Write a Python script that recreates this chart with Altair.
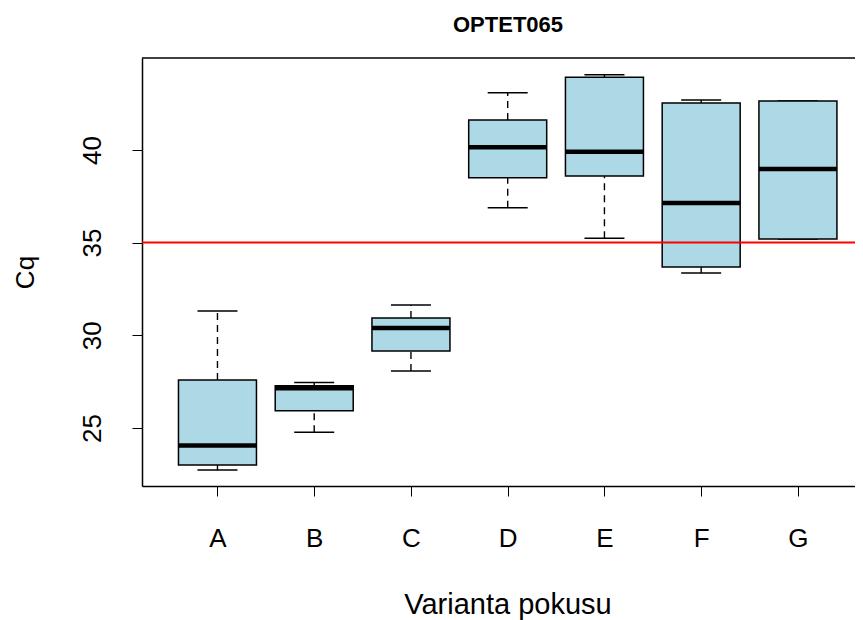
import altair as alt
import pandas as pd

categories = ["A", "B", "C", "D", "E", "F", "G"]
lower = [22.73, 24.77, 28.07, 36.88, 35.23, 33.36, 35.20]
q1 = [23.00, 25.93, 29.15, 38.50, 38.59, 33.69, 35.20]
median = [24.05, 27.14, 30.39, 40.14, 39.90, 37.14, 38.97]
q3 = [27.59, 27.28, 30.93, 41.61, 43.92, 42.53, 42.64]
upper = [31.31, 27.46, 31.63, 43.09, 44.06, 42.69, 42.64]
threshold = [35]
y_ticks = [25, 30, 35, 40]

FONT = "Liberation Sans"
W, H = 713, 428

df = pd.DataFrame({"cat": categories, "lower": lower, "q1": q1,
                   "median": median, "q3": q3, "upper": upper})
thr = pd.DataFrame({"t": threshold})

xs = alt.Scale(type="point", domain=categories, padding=0.685, align=0.5694)
ys = alt.Scale(domain=[21.87, 44.96], nice=False, zero=False)

x_enc = alt.X("cat:N", scale=xs, sort=categories,
              axis=alt.Axis(title="Varianta pokusu", labelAngle=0, labelFontSize=26,
                            labelBaseline="alphabetic", labelPadding=50, tickSize=10,
                            tickWidth=1, tickColor="black",
                            domain=True, domainColor="black", domainWidth=1.5,
                            labelColor="black", labelFont=FONT,
                            titleFont=FONT, titleFontSize=29, titleFontWeight="normal",
                            titleColor="black", titleBaseline="alphabetic",
                            titleAlign="center", titleX=365.5, titleY=127))

y_axis = alt.Axis(title="Cq", values=y_ticks, labelAngle=270, labelAlign="center",
                  labelBaseline="alphabetic", labelPadding=32, labelFontSize=26,
                  labelFont=FONT, labelColor="black", tickSize=10, tickWidth=1,
                  tickColor="black", domain=True, domainColor="black",
                  domainWidth=1.5, grid=False,
                  titleFont=FONT, titleFontSize=26, titleFontWeight="normal",
                  titleColor="black", titleAngle=270, titleBaseline="alphabetic",
                  titleAlign="center", titleX=-109, titleY=214)

base = alt.Chart(df)

whisk_up = base.mark_rule(color="black", strokeWidth=1.4, strokeDash=[7, 5]).encode(
    x=x_enc, y=alt.Y("q3:Q", scale=ys, axis=y_axis), y2="upper:Q")
whisk_lo = base.mark_rule(color="black", strokeWidth=1.4, strokeDash=[7, 5]).encode(
    x=x_enc, y=alt.Y("lower:Q", scale=ys, axis=y_axis), y2="q1:Q")
cap_up = base.mark_tick(color="black", size=40, thickness=1.5, opacity=1).encode(
    x=x_enc, y=alt.Y("upper:Q", scale=ys, axis=y_axis))
cap_lo = base.mark_tick(color="black", size=40, thickness=1.5, opacity=1).encode(
    x=x_enc, y=alt.Y("lower:Q", scale=ys, axis=y_axis))
box = base.mark_bar(size=78, fill="#ADD8E6", stroke="black", strokeWidth=1.5,
                    opacity=1).encode(
    x=x_enc, y=alt.Y("q1:Q", scale=ys, axis=y_axis), y2="q3:Q")
med = base.mark_tick(color="black", size=78, thickness=4.5, opacity=1).encode(
    x=x_enc, y=alt.Y("median:Q", scale=ys, axis=y_axis))
red = alt.Chart(thr).mark_rule(color="#FF0000", strokeWidth=2).encode(
    y=alt.Y("t:Q", scale=ys, axis=y_axis))
top_frame = alt.Chart(thr).mark_rule(color="black", strokeWidth=1.5).encode(
    y=alt.value(0), x=alt.value(0), x2=alt.value(W))

chart = alt.layer(whisk_up, whisk_lo, cap_up, cap_lo, box, med, red, top_frame).properties(
    width=W, height=H,
    background="white",
    title=alt.Title("OPTET065", fontSize=22, fontWeight="bold", font=FONT,
                    color="black", baseline="alphabetic", offset=3, dx=9.5,
                    anchor="middle"),
    autosize=alt.AutoSizeParams(type="none"),
    padding={"left": 134, "top": 50, "right": 0, "bottom": 142},
).configure_view(stroke="transparent", strokeWidth=0)

chart.save("out.html", embed_options={"renderer": "svg", "actions": False})
